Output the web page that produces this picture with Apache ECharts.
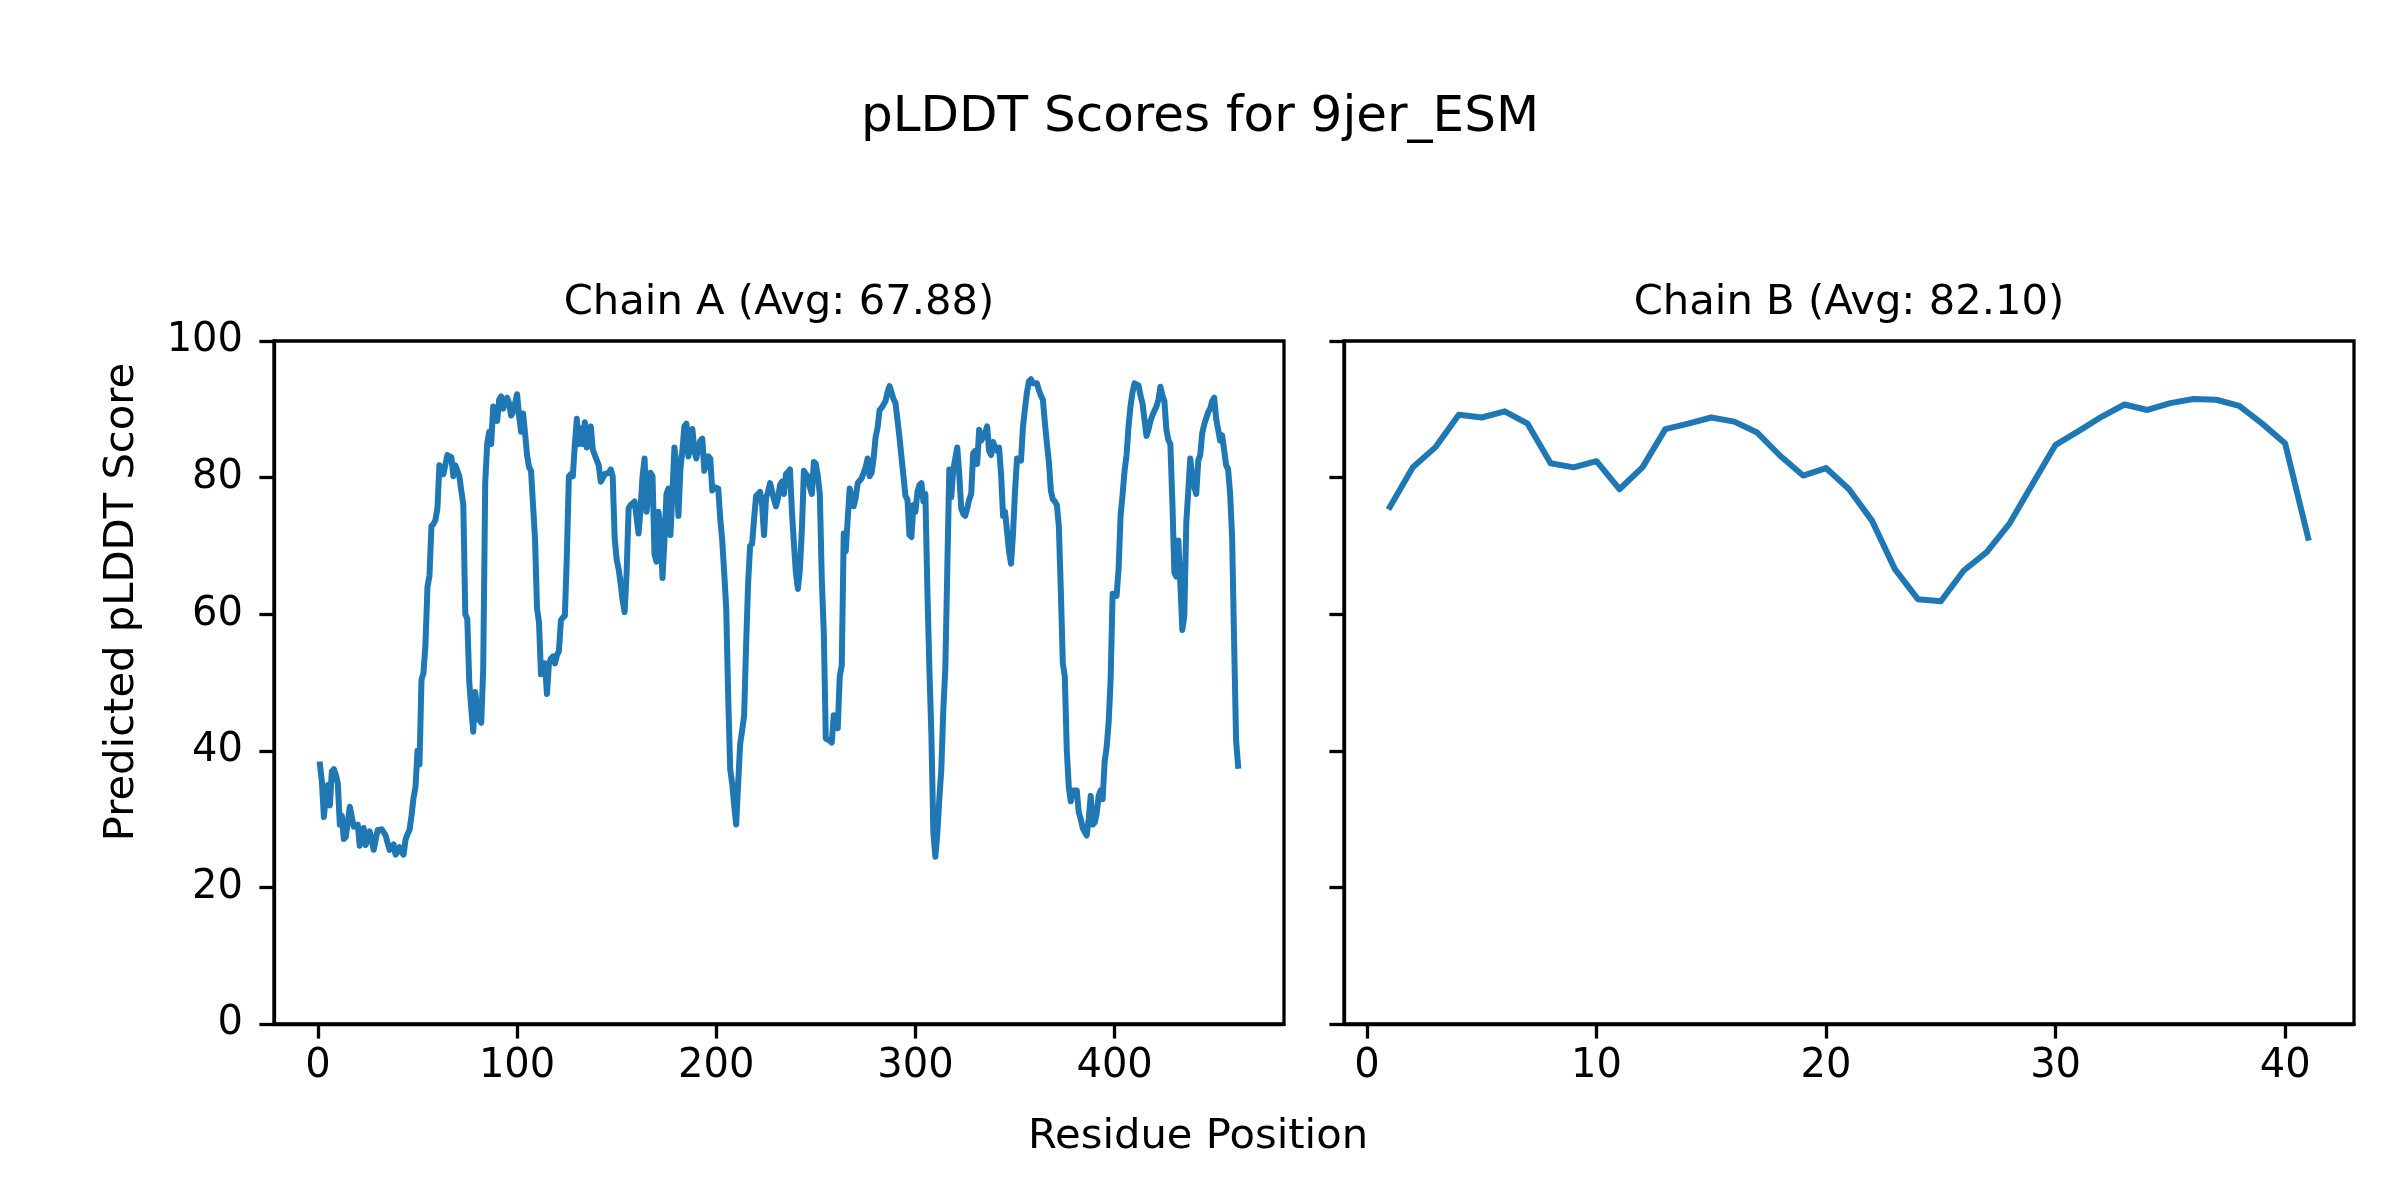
<!DOCTYPE html>
<html>
<head>
<meta charset="utf-8">
<script src="https://cdn.jsdelivr.net/npm/echarts@6/dist/echarts.min.js"></script>
<style>
html,body{margin:0;padding:0;background:#fff;}
#chart{width:2400px;height:1200px;}
</style>
</head>
<body>
<div id="chart"></div>
<script>
// ---- Data ----
const figTitle = 'pLDDT Scores for 9jer_ESM';
const chainATitle = 'Chain A (Avg: 67.88)';
const chainBTitle = 'Chain B (Avg: 82.10)';
const xLabel = 'Residue Position';
const yLabel = 'Predicted pLDDT Score';

const chainAStart = 1;
const chainAScores = [
38.0,35.5,30.3,33.5,35.0,32.0,37.0,37.3,36.5,35.2,
29.2,30.5,27.1,27.4,27.6,31.8,31.6,28.9,29.0,29.2,
26.1,27.5,28.7,26.2,27.0,28.2,27.0,25.5,27.0,28.4,
28.4,28.5,28.5,27.6,26.5,25.5,26.0,26.3,24.8,25.3,
25.9,25.2,24.8,27.0,27.8,28.4,30.5,33.1,34.7,40.0,
38.0,50.4,51.4,55.6,64.0,65.6,72.9,73.2,73.8,75.5,
81.8,81.0,80.5,80.7,83.3,83.3,83.0,80.2,81.8,82.0,
80.2,78.1,76.0,60.0,59.3,50.0,46.2,42.8,48.6,45.7,
44.5,44.1,52.0,79.2,85.0,86.7,84.9,90.4,90.4,88.3,
91.4,91.9,90.1,91.0,91.7,90.9,89.1,89.6,89.8,92.2,
89.1,86.7,89.4,86.5,83.3,81.5,81.0,76.0,71.1,60.9,
58.8,51.2,52.0,52.8,48.3,52.8,53.5,53.8,52.8,54.0,
54.6,59.1,59.5,59.8,68.7,80.2,80.5,80.2,84.9,88.6,
84.9,87.2,84.9,88.1,84.4,85.2,87.5,84.1,83.3,83.3,
81.8,79.4,79.9,80.5,80.6,80.7,81.2,80.2,71.1,68.0,
66.6,64.5,62.0,60.3,66.1,75.5,76.0,76.0,76.5,76.5,
71.8,75.5,80.2,82.8,75.0,78.1,80.7,80.2,68.7,67.7,
75.0,72.4,65.3,70.8,77.6,78.4,71.6,71.8,84.4,81.8,
74.4,81.2,84.0,87.5,87.9,83.1,84.4,87.1,84.0,82.8,
84.5,85.4,85.7,81.0,81.2,83.1,82.8,78.1,78.6,78.5,
78.4,74.0,70.8,66.0,60.9,47.8,37.3,35.2,32.0,29.2,
35.2,41.0,43.0,45.2,55.6,64.5,70.0,70.3,74.0,77.3,
77.6,77.9,76.0,71.6,77.1,77.9,79.2,78.0,76.8,75.8,
77.0,78.9,79.4,77.6,80.5,80.8,81.2,75.0,70.3,66.0,
63.7,66.6,72.4,81.0,80.5,80.2,78.6,77.6,82.3,82.0,
80.2,77.6,65.0,57.2,41.8,41.6,41.5,41.2,45.2,44.0,
43.3,50.9,52.5,71.8,69.2,74.0,78.4,78.6,75.8,77.0,
79.2,79.4,79.9,80.7,81.5,82.8,80.2,80.7,82.8,85.9,
87.3,89.9,90.2,90.4,91.2,92.5,93.4,93.2,91.5,90.9,
90.7,85.9,83.0,80.2,77.3,76.8,71.6,71.3,76.0,75.0,
77.9,78.9,79.2,76.5,77.6,63.5,52.0,42.5,28.0,24.5,
27.9,33.0,37.3,46.0,52.0,66.6,81.2,77.1,81.2,81.0,
84.4,80.5,75.5,74.7,74.4,75.5,76.8,77.6,83.6,83.9,
82.0,87.0,85.4,85.5,86.5,87.5,83.9,83.3,85.2,84.5,
83.9,84.4,80.5,74.4,75.0,75.0,69.2,67.4,71.8,78.0,
82.8,82.6,82.5,87.5,90.1,92.5,94.1,94.4,93.8,93.8,
93.8,92.8,92.0,91.4,88.0,85.0,82.3,78.1,76.8,76.5,
76.0,72.9,63.5,52.8,50.9,40.0,34.7,32.6,34.2,34.2,
34.2,31.0,30.0,28.7,28.9,27.6,30.0,33.4,29.2,29.5,
30.8,33.4,34.2,32.9,38.4,40.5,44.1,50.4,63.0,63.0,
62.7,66.6,74.4,77.5,81.0,83.3,87.5,90.5,92.5,93.8,
93.9,93.5,92.0,90.9,88.5,86.1,87.0,88.3,89.1,89.8,
90.4,91.4,93.3,92.0,91.2,87.0,85.5,84.9,76.5,66.1,
65.5,70.8,64.5,57.7,59.8,73.4,78.1,82.8,80.0,78.6,
77.6,82.5,83.3,86.5,87.8,88.0,89.6,90.1,91.2,91.7,
88.6,87.0,85.4,86.2,86.0,81.8,81.2,77.6,71.3,56.0,
41.5,37.8
];

const chainBStart = 1;
const chainBScores = [
75.7,81.5,84.5,89.2,88.8,89.7,87.9,82.1,81.5,82.4,
78.3,81.5,87.1,87.9,88.8,88.2,86.6,83.2,80.3,81.4,
78.3,73.7,66.6,62.2,61.9,66.4,69.1,73.3,79.1,84.8,
86.8,88.9,90.7,89.9,90.9,91.5,91.4,90.5,87.9,85.0,
71.2
];

const chainATicks = [0, 100, 200, 300, 400];
const chainBTicks = [0, 10, 20, 30, 40];

// ---- Build ----
const toPairs = (arr, start) => arr.map((v, i) => [i + start, v]);
const dataA = toPairs(chainAScores, chainAStart);
const dataB = toPairs(chainBScores, chainBStart);

// matplotlib-like 5% margins
function padExtent(n0, n1) {
  const span = n1 - n0;
  return [n0 - span * 0.05, n1 + span * 0.05];
}
const extA = padExtent(chainAStart, chainAStart + chainAScores.length - 1);
const extB = padExtent(chainBStart, chainBStart + chainBScores.length - 1);

const FONT = '"DejaVu Sans", "Liberation Sans", sans-serif';
const lineColor = '#1f77b4';
const spineW = 3.3;
const tickFont = 40;

function xAxisCfg(gridIndex, ext, ticks) {
  return {
    type: 'value', gridIndex, min: ext[0], max: ext[1],
    axisLine: { show: true, onZero: false, lineStyle: { color: '#000', width: spineW } },
    axisTick: { show: true, inside: false, length: 14.6, customValues: ticks, lineStyle: { color: '#000', width: spineW } },
    axisLabel: { show: true, customValues: ticks, margin: 23, color: '#000', fontSize: tickFont, fontFamily: FONT },
    splitLine: { show: false }
  };
}
function yAxisCfg(gridIndex, showLabels) {
  return {
    type: 'value', gridIndex, min: 0, max: 100, interval: 20,
    axisLine: { show: true, onZero: false, lineStyle: { color: '#000', width: spineW } },
    axisTick: { show: true, inside: false, length: 14.6, lineStyle: { color: '#000', width: spineW } },
    axisLabel: { show: showLabels, margin: 31, color: '#000', fontSize: tickFont, fontFamily: FONT },
    splitLine: { show: false }
  };
}

const chart = echarts.init(document.getElementById('chart'), null, { renderer: 'canvas' });
chart.setOption({
  animation: false,
  backgroundColor: '#fff',
  grid: [
    { left: 274, top: 341, width: 1010, height: 683, show: true, borderColor: '#000', borderWidth: spineW, backgroundColor: 'transparent' },
    { left: 1344, top: 341, width: 1010, height: 683, show: true, borderColor: '#000', borderWidth: spineW, backgroundColor: 'transparent' }
  ],
  xAxis: [xAxisCfg(0, extA, chainATicks), xAxisCfg(1, extB, chainBTicks)],
  yAxis: [yAxisCfg(0, true), yAxisCfg(1, false)],
  series: [
    { type: 'line', xAxisIndex: 0, yAxisIndex: 0, data: dataA, showSymbol: false, symbol: 'none',
      lineStyle: { color: lineColor, width: 6, join: 'round', cap: 'square' } },
    { type: 'line', xAxisIndex: 1, yAxisIndex: 1, data: dataB, showSymbol: false, symbol: 'none',
      lineStyle: { color: lineColor, width: 6, join: 'round', cap: 'square' } }
  ],
  graphic: [
    { type: 'text', x: 1200, y: 118, style: { text: figTitle, fill: '#000', font: '50px ' + FONT, textAlign: 'center', textVerticalAlign: 'middle' } },
    { type: 'text', x: 779, y: 303, style: { text: chainATitle, fill: '#000', font: '41.7px ' + FONT, textAlign: 'center', textVerticalAlign: 'middle' } },
    { type: 'text', x: 1849, y: 303, style: { text: chainBTitle, fill: '#000', font: '41.7px ' + FONT, textAlign: 'center', textVerticalAlign: 'middle' } },
    { type: 'text', x: 1198, y: 1137, style: { text: xLabel, fill: '#000', font: '41.7px ' + FONT, textAlign: 'center', textVerticalAlign: 'middle' } },
    { type: 'text', x: 122, y: 602, rotation: Math.PI / 2, style: { text: yLabel, fill: '#000', font: '41.7px ' + FONT, textAlign: 'center', textVerticalAlign: 'middle' } }
  ]
});
</script>
</body>
</html>
